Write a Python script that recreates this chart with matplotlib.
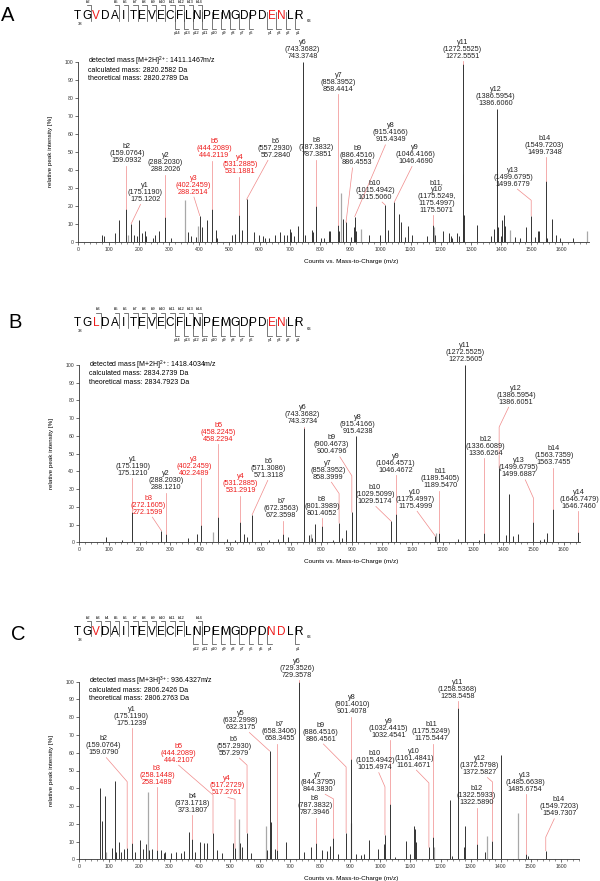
import numpy as np
import matplotlib.pyplot as plt
from matplotlib.ticker import MultipleLocator

plt.rcParams['font.family'] = ['Liberation Sans', 'DejaVu Sans']
plt.rcParams['mathtext.default'] = 'regular'

W, H = 600, 881
PINK = '#f08a8a'
RED = '#ee1c1c'

# ── Panel A data ────────────────────────────────────────────────────────────
seq_a = "TGVDAITEVECFLNPEMGDPDENLR"
red_a = [2, 21, 22]
b_ions_a = [2, 5, 6, 7, 8, 9, 10, 11, 12, 13, 14]
y_ions_a = [14, 13, 12, 11, 10, 9, 8, 7, 6, 4, 3, 2, 1]
mass_a = ["detected mass [M+2H]$^{2+}$: 1411.1467m/z",
          "calculated mass: 2820.2582 Da",
          "theoretical mass: 2820.2789 Da"]
mz_a = [80, 84, 122, 134, 159.09, 175.12, 186, 193, 200, 212, 220, 225, 247, 255,
        268, 288.20, 307, 363, 372, 390, 402.25, 408, 425, 444.21, 455, 460, 510,
        518, 531.19, 543, 557.28, 583, 597, 610, 618, 632, 650, 667, 680, 690, 700,
        705, 715, 728, 743.37, 750, 774, 778, 787.39, 803, 814, 829, 833, 858.44,
        864, 875, 886.46, 902, 913, 915.43, 921, 962, 998, 1015.51, 1024, 1046.47,
        1063, 1068, 1083, 1091, 1105, 1154, 1175.51, 1182, 1209, 1226, 1233, 1239,
        1253, 1259, 1272.56, 1274, 1276, 1321, 1366, 1377, 1386.61, 1390, 1399,
        1404, 1408, 1412, 1445, 1462, 1481, 1499.68, 1513, 1522, 1527, 1549.72,
        1552, 1569, 1582, 1596, 1638]
int_a = [4, 3, 5, 12, 18, 10, 4, 3, 12, 5, 6, 3, 2, 4,
         6, 13.5, 2, 5.5, 3, 2.7, 14.5, 8, 12, 18, 6.5, 2, 3.6,
         4.5, 14.6, 6.5, 23.5, 5.6, 3.8, 3.2, 2.3, 2, 3.6, 5.6, 3.6, 4, 6.8,
         5.6, 3.2, 8.6, 100, 3.8, 6.5, 5.5, 20, 2, 2, 5.7, 6, 9.5,
         6, 12.6, 10.7, 2.4, 8, 14, 6, 4, 4, 20.5, 6.5, 22,
         15.4, 10.7, 2.8, 8.5, 4, 3.3, 9.4, 4, 6, 4.8, 3, 2,
         4.8, 3.3, 99, 37.6, 15, 9.4, 3.3, 7, 74, 8, 3.3,
         12, 14.8, 9, 2.4, 2, 8.3, 14.4, 2.4, 5.7, 6, 33.7,
         2, 12.6, 4, 2, 2]
mz_a_grey = [165, 352, 395, 870, 935, 1177, 1431, 1683]
int_a_grey = [4, 23, 9, 27, 7, 8, 6.5, 5.7]
ions_a = [("b2\n(159.0764)\n159.0932", 159.09, 'k'),
          ("y1\n(175.1190)\n175.1202", 175.12, 'k'),
          ("y2\n(288.2030)\n288.2026", 288.20, 'k'),
          ("y3\n(402.2459)\n288.2514", 402.25, 'r'),
          ("b5\n(444.2089)\n444.2119", 444.21, 'r'),
          ("y4\n(531.2885)\n531.1881", 531.19, 'r'),
          ("b6\n(557.2930)\n557.2840", 557.28, 'k'),
          ("b8\n(787.3832)\n787.3851", 787.39, 'k'),
          ("y6\n(743.3682)\n743.3748", 743.37, 'k'),
          ("y7\n(858.3952)\n858.4414", 858.44, 'k'),
          ("b9\n(886.4516)\n886.4553", 886.46, 'k'),
          ("y8\n(915.4166)\n915.4349", 915.43, 'k'),
          ("b10\n(1015.4942)\n1015.5060", 1015.51, 'k'),
          ("y9\n(1046.4166)\n1046.4690", 1046.47, 'k'),
          ("b11,\ny10\n(1175.5249,\n1175.4997)\n1175.5071", 1175.51, 'k'),
          ("y11\n(1272.5525)\n1272.5551", 1272.56, 'k'),
          ("y12\n(1386.5954)\n1386.6060", 1386.61, 'k'),
          ("y13\n(1499.6795)\n1499.6779", 1499.68, 'k'),
          ("b14\n(1549.7203)\n1499.7348", 1549.72, 'k')]
# label placement: text x, text bottom y, leader start x, leader elbow y
pos_a = [(161, 43, None, None), (222, 21.5, 206, None), (289, 38, None, None),
         (381, 25.6, 383, None), (450, 45.8, None, None), (536, 37, None, None),
         (653, 46, 628, None), (789, 46.3, None, None), (743, 101, None, None),
         (861, 82.6, None, None), (924, 41.8, 908, None), (1034, 54.6, 1017, None),
         (982, 22.8, 1006, None), (1116, 42.6, 1105, None), (1187, 15.4, None, None),
         (1272, 101, None, None), (1382, 74.6, None, None), (1440, 30, 1454, 23),
         (1544, 47.8, None, None)]

# ── Panel B data ────────────────────────────────────────────────────────────
seq_b = "TGLDAITEVECFLNPEMGDPDENLR"
red_b = [2, 21, 22]
b_ions_b = [3, 5, 6, 7, 8, 9, 10, 11, 12, 13, 14]
y_ions_b = [14, 13, 12, 11, 10, 9, 8, 7, 6, 4, 3, 2, 1]
mass_b = ["detected mass [M+2H]$^{2+}$: 1418.4034m/z",
          "calculated mass: 2834.2739 Da",
          "theoretical mass: 2834.7923 Da"]
mz_b = [90, 141, 175.12, 220, 272.16, 288.12, 359, 389, 402.25, 458.23, 487, 516,
        531.29, 545, 555, 571.31, 628, 656, 672.36, 689, 743.37, 760, 770, 780,
        801.41, 838, 858.40, 869, 880, 900.48, 915.42, 1029.52, 1046.47, 1175.50,
        1189.55, 1250, 1272.56, 1319, 1336.63, 1386.61, 1408, 1418, 1432, 1449,
        1499.69, 1523, 1535, 1546, 1563.75, 1646.75]
int_b = [3.2, 1.3, 17.2, 1, 6.5, 4.5, 2.6, 4.7, 9.7, 14.4, 1.7, 1.3,
         11.6, 4.7, 2.8, 15.5, 1.3, 1.9, 4.7, 2.8, 64.4, 4, 2.2, 10.6,
         9.2, 1.3, 11, 2.6, 7, 17, 60, 12, 16, 3.6,
         5.5, 1.7, 100, 1.2, 5, 42, 4, 27.5, 3.6, 4.5,
         11.3, 1.5, 2, 5, 18.9, 6]
mz_b_grey = [441, 765, 1178]
int_b_grey = [5.6, 4.5, 5]
ions_b = [("y1\n(175.1190)\n175.1210", 175.12, 'k'),
          ("y2\n(288.2030)\n288.1210", 288.12, 'k'),
          ("b3\n(272.1605)\n272.1599", 272.16, 'r'),
          ("y3\n(402.2459)\n402.2489", 402.25, 'r'),
          ("b5\n(458.2245)\n458.2294", 458.23, 'r'),
          ("y4\n(531.2885)\n531.2919", 531.29, 'r'),
          ("b6\n(571.3086)\n571.3118", 571.31, 'k'),
          ("b7\n(672.3563)\n672.3598", 672.36, 'k'),
          ("y6\n(743.3682)\n743.3734", 743.37, 'k'),
          ("b8\n(801.3989)\n801.4052", 801.41, 'k'),
          ("y7\n(858.3952)\n858.3999", 858.40, 'k'),
          ("b9\n(900.4673)\n900.4796", 900.48, 'k'),
          ("y8\n(915.4166)\n915.4238", 915.42, 'k'),
          ("b10\n(1029.5099)\n1029.5174", 1029.52, 'k'),
          ("y9\n(1046.4571)\n1046.4672", 1046.47, 'k'),
          ("y10\n(1175.4997)\n1175.4999", 1175.50, 'k'),
          ("b11\n(1189.5405)\n1189.5470", 1189.55, 'k'),
          ("y11\n(1272.5525)\n1272.5605", 1272.56, 'k'),
          ("b12\n(1336.6089)\n1336.6264", 1336.63, 'k'),
          ("y12\n(1386.5954)\n1386.6051", 1386.61, 'k'),
          ("y13\n(1499.6795)\n1499.6887", 1499.69, 'k'),
          ("b14\n(1563.7359)\n1563.7455", 1563.75, 'k'),
          ("y14\n(1646.7479)\n1646.7460", 1646.75, 'k')]
pos_b = [(177, 37, None, None), (288, 28.7, None, None), (228, 15, 242, None),
         (379, 37, None, None), (460, 56, None, None), (533, 27, None, None),
         (626, 35.7, 623, None), (667, 13, None, None), (738, 66, None, None),
         (802, 14.3, None, None), (822, 34.7, 833, 27.5), (833, 49, 861, 37.5),
         (919, 60.8, None, None), (977, 21, 980, None), (1045, 38.5, None, None),
         (1109, 18.3, 1116, None), (1192, 29.8, None, None), (1274, 101, None, None),
         (1341, 48.3, None, None), (1442, 77, 1418, 65), (1451, 36, 1473, 25),
         (1567, 42.8, None, None), (1650, 18.3, None, None)]

# ── Panel C data ────────────────────────────────────────────────────────────
seq_c = "TGVDAITEVECFLNPEMGDPDNDLR"
red_c = [2, 21, 22]
b_ions_c = [2, 3, 4, 5, 6, 7, 8, 9, 10, 11, 12, 14]
y_ions_c = [12, 11, 10, 9, 8, 7, 6, 5, 4, 1]
mass_c = ["detected mass [M+3H]$^{3+}$: 936.4327m/z",
          "calculated mass: 2806.2426 Da",
          "theoretical mass: 2806.2763 Da"]
mz_c = [70, 74, 87, 107, 120, 123, 133, 139, 149, 159.08, 175.12, 184, 200, 211,
        222, 230, 240, 258.15, 270, 281, 286, 305, 322, 339, 349, 365, 373.18,
        384, 402, 415, 424, 444.21, 459, 475, 509, 517.28, 533, 542, 557.30, 569,
        624, 632.32, 637, 650, 658.35, 686, 729.36, 748, 769, 787.39, 807, 823,
        833, 844.38, 860, 886.46, 901.41, 920, 935, 945, 962, 994, 1012, 1015.50,
        1032.45, 1050, 1084, 1100, 1111, 1114, 1117, 1161.47, 1175.54, 1233, 1237,
        1258.55, 1277, 1283, 1322.59, 1348, 1372.58, 1401, 1485.68, 1490, 1549.73]
int_c = [40.3, 21.8, 35.8, 6.6, 44, 4, 9.6, 4, 5.6, 6.2, 9.4, 4.3, 11, 5.6,
         8.4, 5, 5.6, 5.3, 5.3, 3.7, 4.3, 3.4, 4.3, 3.7, 4.7, 15.6, 11.3,
         4.3, 10, 9, 9.4, 14.6, 5.3, 3.4, 9, 6.2, 9.4, 7, 15, 3.4,
         5.3, 61, 20.8, 5.6, 5.3, 9.6, 100, 4.3, 7, 9, 5.3, 4.9,
         7.5, 11.8, 3, 15, 56.2, 3, 2.5, 3, 11.1, 5.8, 8.7, 13.8,
         31, 1.5, 10.2, 3, 19, 17, 9.6, 6.8, 12.8, 33.2, 2,
         85, 6.8, 18.5, 8.7, 4, 10.2, 59, 3, 2, 4.9]
mz_c_grey = [90, 227, 529, 619, 903, 1178, 1353, 1456]
int_c_grey = [4.3, 38.1, 22.5, 18.8, 20.4, 7.2, 13.4, 26]
ions_c = [("b2\n(159.0764)\n159.0790", 159.08, 'k'),
          ("y1\n(175.1190)\n175.1239", 175.12, 'k'),
          ("b3\n(258.1448)\n258.1489", 258.15, 'r'),
          ("b5\n(444.2089)\n444.2107", 444.21, 'r'),
          ("b4\n(373.1718)\n373.1807", 373.18, 'k'),
          ("y4\n(517.2729)\n517.2761", 517.28, 'r'),
          ("b6\n(557.2930)\n557.2979", 557.30, 'k'),
          ("y5\n(632.2998)\n632.3175", 632.32, 'k'),
          ("b7\n(658.3406)\n658.3455", 658.35, 'k'),
          ("y6\n(729.3526)\n729.3578", 729.36, 'k'),
          ("b8\n(787.3832)\n787.3946", 787.39, 'k'),
          ("y7\n(844.3795)\n844.3830", 844.38, 'k'),
          ("b9\n(886.4516)\n886.4561", 886.46, 'k'),
          ("y8\n(901.4010)\n901.4078", 901.41, 'k'),
          ("b10\n(1015.4942)\n1015.4974", 1015.50, 'k'),
          ("y9\n(1032.4415)\n1032.4541", 1032.45, 'k'),
          ("y10\n(1161.4841)\n1161.4671", 1161.47, 'k'),
          ("b11\n(1175.5249)\n1175.5447", 1175.54, 'k'),
          ("y11\n(1258.5368)\n1258.5458", 1258.55, 'k'),
          ("b12\n(1322.5933)\n1322.5890", 1322.59, 'k'),
          ("y12\n(1372.5798)\n1372.5827", 1372.58, 'k'),
          ("y13\n(1485.6638)\n1485.6754", 1485.68, 'k'),
          ("b14\n(1549.7203)\n1549.7307", 1549.73, 'k')]
pos_c = [(80, 58, 90, 43.7), (173, 74.7, None, None), (258, 41.5, None, None),
         (330, 53.8, 330, 36.2), (376, 25.5, None, None), (491, 35.6, 494, 33.8),
         (514, 57.8, 532, 53), (536, 72.2, 565, None), (665, 65.9, None, None),
         (723, 101.5, None, None), (783, 24.2, None, None), (794, 37.4, 817, 34),
         (802, 65.7, 811, 52), (906, 81, None, None), (982, 49.6, 995, 40.8),
         (1028, 68, None, None), (1112, 51, 1120, 43), (1169, 66, None, None),
         (1256, 89.8, None, None), (1319, 29.8, None, None), (1330, 46.8, 1356, 43.6),
         (1481, 37.4, None, None), (1594, 23.6, 1578, 12.5)]


fig = plt.figure(figsize=(W / 100, H / 100), dpi=100)

# overlay in pixel coordinates for the sequence maps and panel letters
ov = fig.add_axes([0, 0, 1, 1])
ov.set_xlim(0, W)
ov.set_ylim(H, 0)
ov.axis('off')


def draw_sequence(seq, red, b_ions, y_ions, yc, x0=77.5, step=9.25):
    n = len(seq)
    for i, aa in enumerate(seq):
        ov.text(x0 + i * step, yc, aa, ha='center', va='center', fontsize=8.5,
                color=RED if i in red else 'black')
    # residue numbers as subscripts below the first / last letter
    ov.text(x0 + 2.5, yc + 8, "38", fontsize=3, ha='center', va='center')
    ov.text(x0 + (n - 1) * step + 7.5, yc + 5, "63", fontsize=3, ha='left', va='center')
    for k in b_ions:
        xb = x0 + (k - 0.5) * step
        ov.plot([xb - 4.5, xb, xb], [yc - 11, yc - 11, yc + 4.5], color='#444', lw=0.5)
        ov.text(xb - 3, yc - 14, f"b{k}", fontsize=3, ha='center', va='center')
    for k in y_ions:
        xb = x0 + (n - k - 0.5) * step
        ov.plot([xb, xb, xb + 4.5], [yc - 4.5, yc + 12.5, yc + 12.5], color='#444', lw=0.5)
        ov.text(xb + 3, yc + 17, f"y{k}", fontsize=3, ha='center', va='center')


def draw_spectrum(left, top, bottom, xmax, scale, mz, inten, mz_g, int_g,
                  ions, pos, mass_lines, xlab_x):
    width = xmax * scale
    ax = fig.add_axes([left / W, 1 - bottom / H, width / W, (bottom - top) / H])
    ax.vlines(mz_g, 0, int_g, color='#a8a8a8', lw=0.9)
    ax.vlines(mz, 0, inten, color='#333333', lw=0.7)
    ax.set_xlim(0, xmax)
    ax.set_ylim(0, 100)
    for s in ['top', 'right']:
        ax.spines[s].set_visible(False)
    for s in ['left', 'bottom']:
        ax.spines[s].set_linewidth(0.6)
        ax.spines[s].set_color('#333')
    ax.xaxis.set_major_locator(MultipleLocator(100))
    ax.xaxis.set_minor_locator(MultipleLocator(20))
    ax.yaxis.set_major_locator(MultipleLocator(10))
    ax.tick_params(axis='both', which='major', labelsize=3.7, length=2, width=0.5,
                   pad=1.5, colors='#333')
    ax.tick_params(axis='x', which='minor', length=1.2, width=0.4, colors='#333')
    ax.set_ylabel('relative peak intensity [%]', fontsize=4.5)
    ax.yaxis.set_label_coords(-25 / width, 0.5)
    ax.set_xlabel('Counts vs. Mass-to-Charge (m/z)', fontsize=4.6)
    ax.xaxis.set_label_coords(xlab_x, -17 / (bottom - top))

    for j, line in enumerate(mass_lines):
        ax.text(33, 100 - 4.8 * j, line, fontsize=5.0, ha='left', va='center')

    all_mz = np.array(list(mz) + list(mz_g))
    all_int = np.array(list(inten) + list(int_g))
    for (txt, pk, col), (tx, ty, lx, ey) in zip(ions, pos):
        c = RED if col == 'r' else '#222'
        ax.text(tx, ty, txt, ha='center', va='bottom', fontsize=5.2,
                linespacing=1.0, color=c, clip_on=False)
        h = all_int[np.argmin(np.abs(all_mz - pk))]
        if ty - 1 <= h:
            continue
        xs = [pk if lx is None else lx]
        ys = [ty - 0.8]
        if ey is not None:
            xs.append(pk)
            ys.append(ey)
        xs.append(pk)
        ys.append(h)
        ax.plot(xs, ys, color=PINK, lw=0.5, clip_on=False)
    return ax


# ── Panel A ─────────────────────────────────────────────────────────────────
ov.text(8, 15.5, "A", fontsize=14.5, ha='center', va='center')
draw_sequence(seq_a, red_a, b_ions_a, y_ions_a, yc=16)
draw_spectrum(78.3, 61.7, 241.7, 1690, 0.302, mz_a, int_a, mz_a_grey, int_a_grey,
              ions_a, pos_a, mass_a, 0.535)

# ── Panel B ─────────────────────────────────────────────────────────────────
ov.text(15, 322.5, "B", fontsize=14.5, ha='center', va='center')
draw_sequence(seq_b, red_b, b_ions_b, y_ions_b, yc=323.5)
draw_spectrum(79, 365, 542.3, 1655, 0.303, mz_b, int_b, mz_b_grey, int_b_grey,
              ions_b, pos_b, mass_b, 0.542)

# ── Panel C ─────────────────────────────────────────────────────────────────
ov.text(18, 634.5, "C", fontsize=14.5, ha='center', va='center')
draw_sequence(seq_c, red_c, b_ions_c, y_ions_c, yc=631.7)
draw_spectrum(79.3, 681.7, 859.3, 1660, 0.301, mz_c, int_c, mz_c_grey, int_c_grey,
              ions_c, pos_c, mass_c, 0.544)

fig.savefig("out.png", dpi=100)
